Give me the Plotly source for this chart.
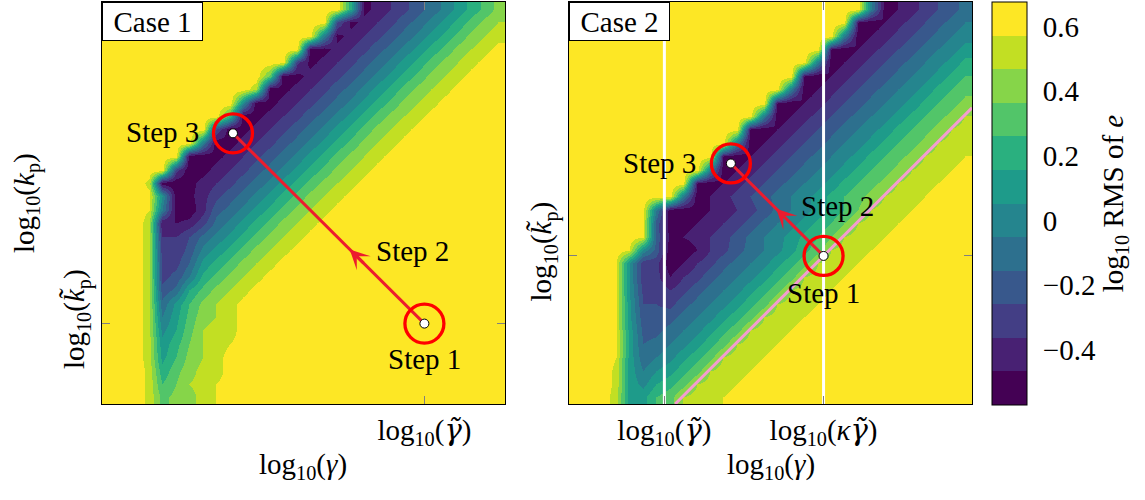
import plotly.graph_objects as go

FONT = "Liberation Serif, Tinos, DejaVu Serif, Noto Serif, serif"
FS = 29

# ---- colour levels (log10 RMS of e) ----
Z_LO, Z_HI = -0.57, 0.676
VIRIDIS_12 = ["#440154", "#482173", "#433e85", "#38588c", "#2d708e", "#25858e",
              "#1e9b8a", "#2ab07f", "#52c569", "#86d549", "#c2df23", "#fde725"]
CBAR_TICKS = [-0.4, -0.2, 0.0, 0.2, 0.4, 0.6]
CBAR_TICKTEXT = ["\u22120.4", "\u22120.2", "0", "0.2", "0.4", "0.6"]

# ---- sampled RMS maps, 30 x 30 cells, top row first ----
# each character is a base-36 code q (0..35); value = Z_LO + q * (Z_HI - Z_LO) / 36
CASE1_ROWS = [
    "z" * 18 + "l2468bdgjmps",
    "z" * 17 + "92468bdgjmpsu",
    "z" * 16 + "f2468bdgjmpsuw",
    "z" * 15 + "12468bdgjmpsuwy",
    "z" * 14 + "72468bdgjmpsuwyz",
    "z" * 12 + "q12468bdgjmpsuwyzz",
    "z" * 11 + "v12468bdgjmpsuwy" + "z" * 3,
    "z" * 10 + "h12468bdgjmpsuwy" + "z" * 4,
    "z" * 9 + "n12468bdgjmpsuwy" + "z" * 5,
    "z" * 8 + "912468bdgjmpsuwy" + "z" * 6,
    "z" * 7 + "f12468bdgjmpsuwy" + "z" * 7,
    "z" * 6 + "112468bdgjmpsuwy" + "z" * 8,
    "z" * 5 + "712468bdgjmpsuwy" + "z" * 9,
    "z" * 3 + "w112468bdgjmpsuwy" + "z" * 10,
    "zzzyi125" + "8bdgjmpsuwy" + "z" * 11,
    "zzzxf115" + "bdgjmpsuwy" + "z" * 12,
    "zzzv3348" + "dgjmpsuwy" + "z" * 13,
    "zzzv669d" + "gjmpsuwy" + "z" * 14,
    "zzzv77a" + "gjmpsuwy" + "z" * 15,
    "zzzv88c" + "jmpsuwy" + "z" * 16,
    "zzzv8af" + "mpsuwy" + "z" * 17,
    "zzzvadl" + "psuwy" + "z" * 18,
    "zzzvdjo" + "suwy" + "z" * 19,
    "zzzvfkptuwy" + "z" * 19,
    "zzzvhlquvwy" + "z" * 19,
    "zzzvjnruwxy" + "z" * 19,
    "zzzvkosuwy" + "z" * 20,
    "zzzwmqtvwy" + "z" * 20,
    "zzzworuvxy" + "z" * 20,
    "zzzwqstvxy" + "z" * 20,
]

CASE2_ROWS = [
    "z" * 22 + "f" + "13579bd",
    "z" * 21 + "3" + "13579bdf",
    "z" * 20 + "f" + "13579bdfh",
    "z" * 19 + "3" + "13579bdfhj",
    "z" * 18 + "f" + "13579bdfhjm",
    "z" * 17 + "3" + "13579bdfhjmo",
    "z" * 16 + "f" + "13579bdfhjmoq",
    "z" * 15 + "3" + "13579bdfhjmoqs",
    "z" * 14 + "f" + "13579bdfhjmoqsu",
    "z" * 13 + "3" + "13579bdfhjmoqsuv",
    "z" * 12 + "f" + "13579bdfhjmoqsuvw",
    "z" * 11 + "3" + "13579bdfhjmoqsuvwx",
    "z" * 10 + "f" + "13579bdfhjmoqsuvwxy",
    "z" * 9 + "3" + "13579bdfhjmoqsuvwxy" + "z",
    "z" * 8 + "f" + "13579bdfhjmoqsuvwxy" + "zz",
    "zzzzzyf1" + "123468adfhjmoruvwxy" + "zzz",
    "zzzzzxb" + "123468adfhjmoruvwxy" + "zzzz",
    "zzzzzxb" + "23468adfhjmoruvwxy" + "z" * 5,
    "zzzzxhb" + "11368bdfhknquvwxy" + "z" * 6,
    "zzzxi77" + "1368bdfhknquvwxy" + "z" * 7,
    "zzzxi77" + "368bdfhknquvwxy" + "z" * 8,
    "zzzxi88" + "68bdfhknquvwxy" + "z" * 9,
    "zzzxj99" + "8bdfhknquvwxy" + "z" * 10,
    "zzzxjaa" + "bdfhknquvwxy" + "z" * 11,
    "zzzxkbb" + "dfhknquvwxy" + "z" * 12,
    "zzzxkcd" + "fhknquvwxy" + "z" * 13,
    "zzzxkdf" + "hknquvwxy" + "z" * 14,
    "zzzwkfi" + "knquvwxy" + "z" * 15,
    "zzzwkhl" + "nquvwxy" + "z" * 16,
    "zzzvkko" + "quvwxy" + "z" * 17,
]

N_CELLS = 30
CELL_CENTRES = [i + 0.5 for i in range(N_CELLS)]

# ---- reference values on the axes (grid units) ----
C1_GAMMA_T = 24.0
C1_KP_T = 6.0
C2_GAMMA_T = 7.1
C2_KAPPA_GAMMA_T = 18.95
C2_KP_T = 11.05
C2_LINE_OFFSET = -7.9          # log kp = log gamma + offset (pink reference line)

# tuning steps: (gamma, kp) of step 1 and step 3
C1_STEP1 = (24.0, 6.0)
C1_STEP3 = (9.75, 20.2)
C2_STEP1 = (18.95, 11.05)
C2_STEP3 = (12.05, 17.95)
C1_HEAD_AT = 0.39              # arrow head position along step 1 -> step 3
C2_HEAD_AT = 0.51

C1_LABELS = {"Step 1": (23.97, 3.36), "Step 2": (23.13, 11.44), "Step 3": (4.49, 20.28)}
C2_LABELS = {"Step 1": (18.93, 8.31), "Step 2": (19.95, 14.78), "Step 3": (6.77, 17.96)}

ARROW_RED = "#ec1c2e"
RING_RED = "#ff0000"
PINK = "#f59ccf"

W, H = 1145, 500
X1_DOM = [102 / W, 505 / W]
X2_DOM = [569 / W, 972 / W]
Y_DOM = [1 - 404 / H, 1 - 2 / H]


def decode(rows):
    step = (Z_HI - Z_LO) / 36.0
    assert all(len(r) == N_CELLS for r in rows)
    return [[Z_LO + int(ch, 36) * step for ch in row] for row in reversed(rows)]


colorscale = []
for k, c in enumerate(VIRIDIS_12):
    colorscale += [[k / 12, c], [(k + 1) / 12, c]]

tfont = dict(family=FONT, size=FS, color="black")

# gamma with tilde: set in a face with proper combining-mark placement
G_TILDE = '<span style="font-family:DejaVu Serif">\u03b3\u0303</span>'
K_TILDE = "k\u0303"


def log10(s):
    return "log<sub>10</sub>(" + s + ")"


fig = go.Figure()

fig.add_trace(go.Heatmap(
    z=decode(CASE1_ROWS), x=CELL_CENTRES, y=CELL_CENTRES,
    zmin=Z_LO, zmax=Z_HI, colorscale=colorscale, zsmooth="best",
    showscale=False, hoverinfo="skip", xaxis="x", yaxis="y"))

fig.add_trace(go.Heatmap(
    z=decode(CASE2_ROWS), x=CELL_CENTRES, y=CELL_CENTRES,
    zmin=Z_LO, zmax=Z_HI, colorscale=colorscale, zsmooth="best",
    hoverinfo="skip", xaxis="x2", yaxis="y2",
    colorbar=dict(
        thickness=35, thicknessmode="pixels", len=403, lenmode="pixels",
        x=992 / W, xanchor="left", y=1 - 2 / H, yanchor="top",
        xpad=0, ypad=0, outlinewidth=1, outlinecolor="black",
        tickvals=CBAR_TICKS, ticktext=CBAR_TICKTEXT,
        ticks="outside", ticklen=10, tickcolor="rgba(0,0,0,0)",
        tickfont=tfont,
        title=dict(text="log<sub>10</sub> RMS of <i>e</i>", side="right", font=tfont),
    )))

# case 2 guide lines
for gx in (C2_GAMMA_T, C2_KAPPA_GAMMA_T):
    fig.add_trace(go.Scatter(x=[gx, gx], y=[0, N_CELLS], mode="lines",
                             line=dict(color="white", width=3),
                             hoverinfo="skip", showlegend=False, xaxis="x2", yaxis="y2"))
fig.add_trace(go.Scatter(x=[-C2_LINE_OFFSET, N_CELLS], y=[0, N_CELLS + C2_LINE_OFFSET],
                         mode="lines", line=dict(color=PINK, width=3),
                         hoverinfo="skip", showlegend=False, xaxis="x2", yaxis="y2"))


def add_steps(s1, s3, head_at, labels, xa, ya):
    fig.add_trace(go.Scatter(x=[s1[0], s3[0]], y=[s1[1], s3[1]], mode="lines",
                             line=dict(color=ARROW_RED, width=3),
                             hoverinfo="skip", showlegend=False, xaxis=xa, yaxis=ya))
    fig.add_trace(go.Scatter(x=[s1[0], s3[0]], y=[s1[1], s3[1]], mode="markers",
                             marker=dict(symbol="circle-open", size=39,
                                         color=RING_RED, line=dict(width=3.3, color=RING_RED)),
                             hoverinfo="skip", showlegend=False, xaxis=xa, yaxis=ya))
    fig.add_trace(go.Scatter(x=[s1[0], s3[0]], y=[s1[1], s3[1]], mode="markers",
                             marker=dict(symbol="circle", size=9, color="white",
                                         line=dict(width=1, color="black")),
                             hoverinfo="skip", showlegend=False, xaxis=xa, yaxis=ya))
    dx, dy = s3[0] - s1[0], s3[1] - s1[1]
    tip = (s1[0] + head_at * dx, s1[1] + head_at * dy)
    tail = (s1[0] + (head_at - 0.08) * dx, s1[1] + (head_at - 0.08) * dy)
    fig.add_annotation(x=tip[0], y=tip[1], ax=tail[0], ay=tail[1],
                       xref=xa, yref=ya, axref=xa, ayref=ya, text="",
                       showarrow=True, arrowhead=3, arrowsize=1.1, arrowwidth=3,
                       arrowcolor=ARROW_RED, standoff=0, startstandoff=0)
    for txt, (lx, ly) in labels.items():
        fig.add_annotation(x=lx, y=ly, xref=xa, yref=ya, text=txt, showarrow=False,
                           font=tfont, xanchor="center", yanchor="middle")


add_steps(C1_STEP1, C1_STEP3, C1_HEAD_AT, C1_LABELS, "x", "y")
add_steps(C2_STEP1, C2_STEP3, C2_HEAD_AT, C2_LABELS, "x2", "y2")

axis_common = dict(range=[0, N_CELLS], showgrid=False, zeroline=False,
                   showline=True, linecolor="black", linewidth=1, mirror="allticks",
                   ticks="inside", ticklen=8, tickwidth=1, tickcolor="#808080",
                   tickfont=tfont, fixedrange=True)

fig.update_layout(
    width=W, height=H, autosize=False,
    margin=dict(l=0, r=0, t=0, b=0),
    paper_bgcolor="white", plot_bgcolor="white",
    showlegend=False,
    font=dict(family=FONT, size=FS, color="black"),
    xaxis=dict(axis_common, domain=X1_DOM, anchor="y",
               tickvals=[C1_GAMMA_T], ticktext=[log10("<i>" + G_TILDE + "</i>")],
               ticklabelstandoff=0),
    yaxis=dict(axis_common, domain=Y_DOM, anchor="x",
               tickvals=[C1_KP_T], ticktext=[log10("<i>" + K_TILDE + "</i><sub>p</sub>")],
               tickangle=-90, ticklabelstandoff=5),
    xaxis2=dict(axis_common, domain=X2_DOM, anchor="y2",
                tickvals=[C2_GAMMA_T, C2_KAPPA_GAMMA_T],
                ticktext=[log10("<i>" + G_TILDE + "</i>"),
                          log10("<i>κ" + G_TILDE + "</i>")],
                ticklabelstandoff=0),
    yaxis2=dict(axis_common, domain=Y_DOM, anchor="x2",
                tickvals=[C2_KP_T], ticktext=[log10("<i>" + K_TILDE + "</i><sub>p</sub>")],
                tickangle=-90, ticklabelstandoff=5),
)

# panel tags
for tag, x0 in (("Case 1", X1_DOM[0]), ("Case 2", X2_DOM[0])):
    fig.add_annotation(x=x0, y=Y_DOM[1], xref="paper", yref="paper", text=tag,
                       showarrow=False, xanchor="left", yanchor="top",
                       width=97, height=35, bgcolor="white", bordercolor="black",
                       borderwidth=1, borderpad=1, font=tfont)

# axis titles
for xc in (sum(X1_DOM) / 2, sum(X2_DOM) / 2):
    fig.add_annotation(x=xc, y=1 - 466 / H, xref="paper", yref="paper",
                       text=log10("<i>γ</i>"), showarrow=False, font=tfont,
                       xanchor="center", yanchor="middle")
fig.add_annotation(x=26 / W, y=1 - 203 / H, xref="paper", yref="paper",
                   text=log10("<i>k</i><sub>p</sub>"), showarrow=False, font=tfont,
                   textangle=-90, xanchor="center", yanchor="middle")

fig.write_html("out.html")
